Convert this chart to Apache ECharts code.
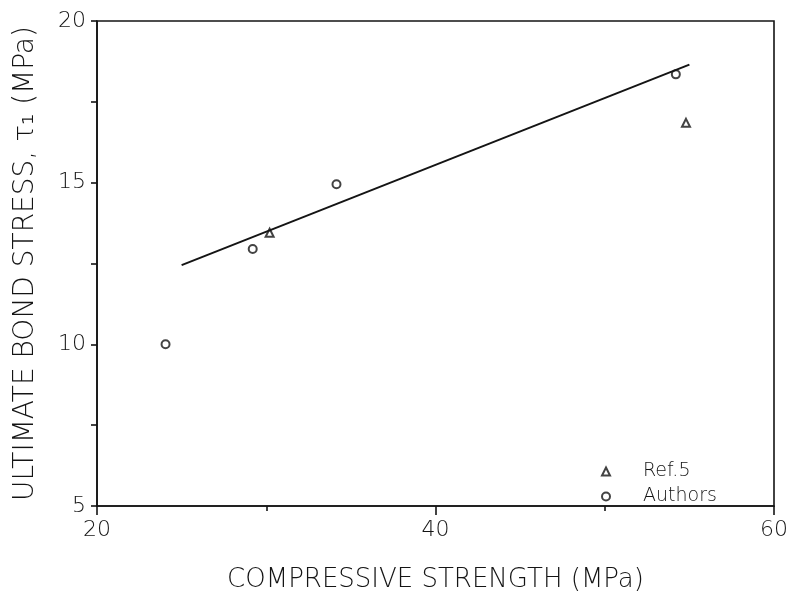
<!DOCTYPE html>
<html><head><meta charset="utf-8">
<script src="https://cdn.jsdelivr.net/npm/echarts@6/dist/echarts.min.js"></script>
<style>html,body{margin:0;padding:0;background:#fff}#c{width:791px;height:599px}</style>
</head><body><div id="c"></div>
<script>
var authorsData = [[24.05, 10.0], [29.2, 12.95], [34.15, 14.95], [54.2, 18.35]];
var ref5Data = [[30.2, 13.45], [54.8, 16.85]];
var fitLine = [[25, 12.45], [55, 18.65]];
var xTicks = [20, 40, 60];
var yTicks = [5, 10, 15, 20];

var font = 'DejaVu Sans';
var ink = '#141414';
var chart = echarts.init(document.getElementById('c'));
chart.setOption({
  animation: false,
  backgroundColor: '#fff',
  grid: {left: 97, top: 21, right: 15, bottom: 93, show: true, borderColor: ink, borderWidth: 1.6},
  xAxis: {
    type: 'value', min: 20, max: 60, interval: 20,
    name: 'COMPRESSIVE STRENGTH (MPa)', nameLocation: 'middle', nameGap: 61,
    nameTextStyle: {fontFamily: font, fontSize: 26, fontWeight: 200, color: ink},
    axisLine: {show: true, lineStyle: {color: ink, width: 1.6}},
    axisTick: {show: true, length: 9, lineStyle: {color: ink, width: 1.6}},
    minorTick: {show: true, splitNumber: 2, length: 5, lineStyle: {color: ink, width: 1.6}},
    axisLabel: {fontFamily: font, fontSize: 22, fontWeight: 200, color: ink, margin: 13,
      formatter: function(v){ return xTicks.indexOf(v) >= 0 ? String(v) : ''; }},
    splitLine: {show: false}
  },
  yAxis: {
    type: 'value', min: 5, max: 20, interval: 5,
    name: 'ULTIMATE BOND STRESS, τ\u2081 (MPa)', nameLocation: 'middle', nameGap: 57,
    nameTextStyle: {fontFamily: font, fontSize: 28, fontWeight: 200, color: ink},
    axisLine: {show: true, lineStyle: {color: ink, width: 1.6}},
    axisTick: {show: true, length: 6, lineStyle: {color: ink, width: 1.6}},
    minorTick: {show: true, splitNumber: 2, length: 6, lineStyle: {color: ink, width: 1.6}},
    axisLabel: {fontFamily: font, fontSize: 22, fontWeight: 200, color: ink, margin: 11,
      formatter: function(v){ return yTicks.indexOf(v) >= 0 ? String(v) : ''; }},
    splitLine: {show: false}
  },
  legend: {
    left: 601, top: 462, orient: 'vertical', padding: 0, itemGap: 6, itemWidth: 8, itemHeight: 8,
    textStyle: {fontFamily: font, fontSize: 19, fontWeight: 200, color: ink, padding: [0, 0, 0, 28]},
    data: [{name: 'Ref.5', icon: 'emptyTriangle'}, {name: 'Authors', icon: 'emptyCircle'}]
  },
  series: [
    {name: 'Fit', type: 'line', data: fitLine, symbol: 'none', silent: true,
     lineStyle: {color: ink, width: 2}},
    {name: 'Ref.5', type: 'scatter', data: ref5Data, symbol: 'emptyTriangle', symbolSize: 8,
     itemStyle: {color: ink, borderColor: ink, borderWidth: 1.8}},
    {name: 'Authors', type: 'scatter', data: authorsData, symbol: 'emptyCircle', symbolSize: 8,
     itemStyle: {color: ink, borderColor: ink, borderWidth: 1.8}}
  ]
});
</script></body></html>
